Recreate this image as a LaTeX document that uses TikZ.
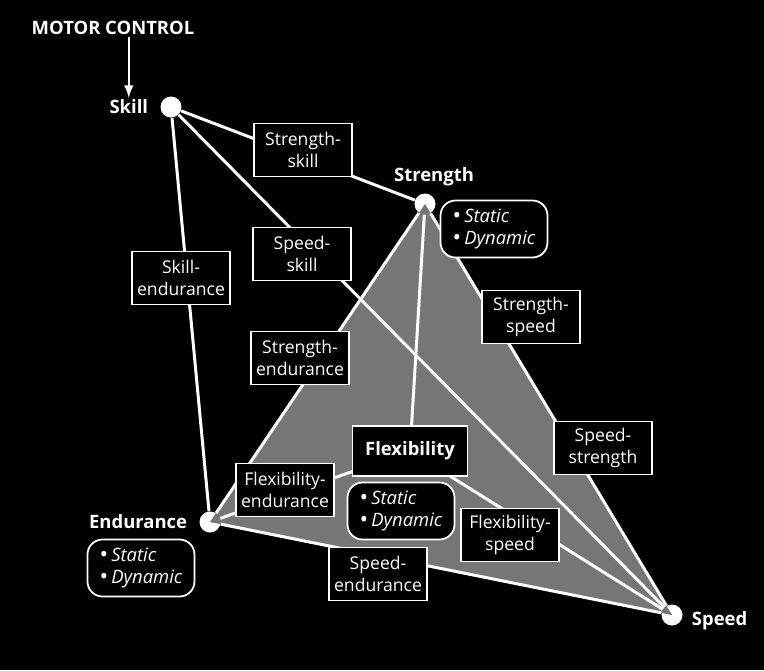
\documentclass[tikz,border=0pt]{standalone}
\usepackage{fontspec}
\setmainfont{Open Sans}
\usetikzlibrary{positioning}
\definecolor{trigray}{RGB}{118,118,118}
\newcommand{\kb}{\smash{\raisebox{-0.6pt}{\fontsize{13}{12}\selectfont\upshape•}}\,}

\tikzset{
  vertex/.style={circle, fill=white, minimum size=0.42cm, inner sep=0pt},
  vname/.style={text=white, font=\bfseries\fontsize{10.5}{12}\selectfont, inner sep=1pt},
  pair/.style={draw=white, line width=0.8pt, fill=black, text=white, align=center,
    font=\fontsize{10}{12.5}\selectfont, minimum width=1.96cm, minimum height=1.06cm, inner sep=1pt},
  kinds/.style={draw=white, line width=1pt, fill=black, text=white, rounded corners=0.3cm, align=left,
    font=\itshape\fontsize{10.5}{12.5}\selectfont, minimum width=2.14cm, minimum height=1.14cm, inner sep=1pt},
  link/.style={white, line width=1.7pt},
}

\begin{document}
\begin{tikzpicture}[x=0.02cm, y=-0.02cm]
\fill[black] (0,0) rectangle (764,670);
\useasboundingbox (0,0) rectangle (764,670);

% corners
\node[vertex] (skill) at (171,107) {};
\node[vertex] (strength) at (425,204) {};
\node[vertex] (endurance) at (210,522) {};
\node[vertex] (speed) at (672,615) {};
\coordinate (flexc) at (410,451);

\fill[trigray] (strength.center) -- (endurance.center) -- (speed.center) -- cycle;

%==========
\draw[link] (skill) -- (strength);
\draw[link] (skill) -- (speed);
\draw[link] (skill) -- (endurance);
\draw[link] (strength) -- (endurance);
\draw[link] (strength) -- (speed);
\draw[link] (endurance) -- (speed);
\draw[link] (strength) -- (flexc);
\draw[link] (flexc) -- (endurance);
\draw[link] (flexc) -- (speed);

%==========
\node[pair] (strskill) at (303,150) {Strength-\\skill};
\node[pair] (spdskill) at (302,254) {Speed-\\skill};
\node[pair] (skillend) at (181,278) {Skill-\\endurance};
\node[pair] (strspd) at (531,317) {Strength-\\speed};
\node[pair] (strend) at (300,358) {Strength-\\endurance};
\node[pair] (spdstr) at (603,448) {Speed-\\strength};
\node[pair] (flexend) at (285,490) {Flexibility-\\endurance};
\node[pair] (flexspd) at (510,535) {Flexibility-\\speed};
\node[pair] (spdend) at (378,574) {Speed-\\endurance};
\node[pair, minimum width=2.3cm, minimum height=1.0cm, font=\bfseries\fontsize{10.5}{12}\selectfont] (flex) at (flexc) {Flexibility};

%==========
\node[kinds] (strkinds) at (494,229) {\kb Static\\\kb Dynamic};
\node[kinds] (flexkinds) at (401,511) {\kb Static\\\kb Dynamic};
\node[kinds] (endkinds) at (141,568) {\kb Static\\\kb Dynamic};

%==========
\node[vname, left=0.2cm of skill] (skilltxt) {Skill};
\node[vname, above=0.1cm of strength, xshift=0.18cm] (strtxt) {Strength};
\node[vname, left=0.2cm of endurance] (endtxt) {Endurance};
\node[vname, right=0.14cm of speed, yshift=-0.12cm] (spdtxt) {Speed};
\node[vname] (motor) at (113,28) {MOTOR CONTROL};
\draw[->, >=latex, white, line width=1.4pt] (skilltxt.north |- motor.south) ++(0,-0.15) -- (skilltxt.north);

\end{tikzpicture}
\end{document}
